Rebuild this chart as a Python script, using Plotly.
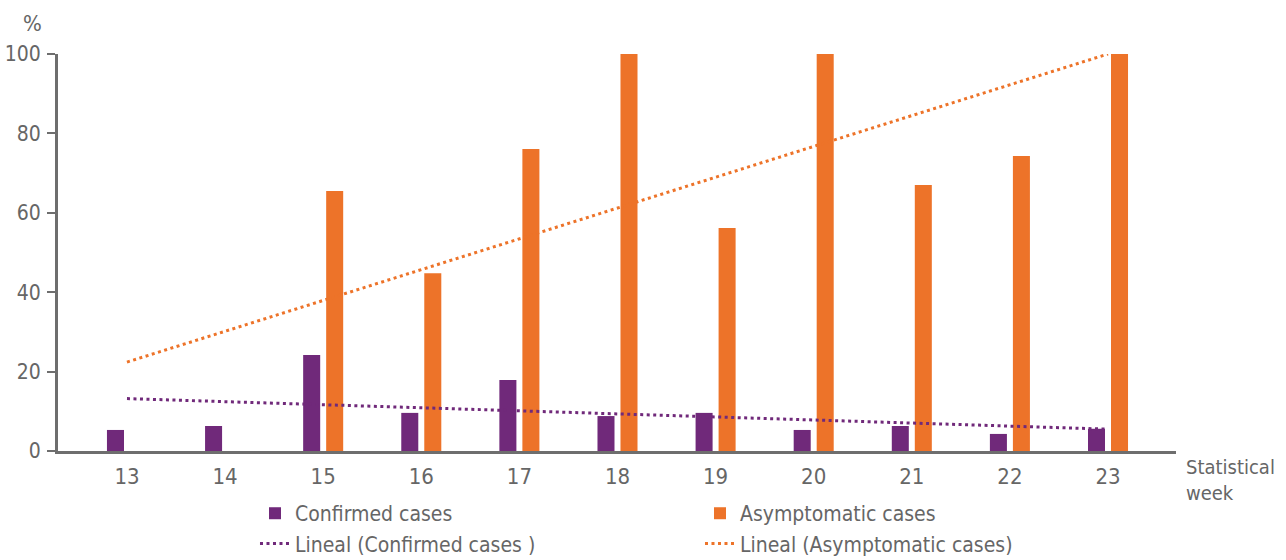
import plotly.graph_objects as go

# Weekly share of cases (%)
weeks = [13, 14, 15, 16, 17, 18, 19, 20, 21, 22, 23]
confirmed = [5.3, 6.3, 24.2, 9.6, 17.9, 8.8, 9.6, 5.3, 6.3, 4.3, 5.6]
asymptomatic = [0, 0, 65.5, 44.8, 76.1, 100, 56.2, 100, 67.0, 74.3, 100]

# Linear trend lines (end points at first and last week)
trend_weeks = [13, 23]
confirmed_trend = [13.2, 5.5]
asymptomatic_trend = [22.4, 100.0]

y_ticks = [0, 20, 40, 60, 80, 100]

PURPLE = "#70297A"
ORANGE = "#ED7329"
AXIS = "#6E6E6E"
TEXT = "#666666"
FONT = "DejaVu Sans Condensed, Liberation Sans Narrow, Arial Narrow, sans-serif"

fig = go.Figure()
fig.add_trace(go.Bar(x=weeks, y=confirmed, name="Confirmed cases",
                     marker=dict(color=PURPLE, line=dict(width=0))))
fig.add_trace(go.Bar(x=weeks, y=asymptomatic, name="Asymptomatic cases",
                     marker=dict(color=ORANGE, line=dict(width=0))))
fig.add_trace(go.Scatter(x=trend_weeks, y=confirmed_trend, mode="lines",
                         name="Lineal (Confirmed cases )",
                         line=dict(color=PURPLE, width=3, dash="3px,3.5px")))
fig.add_trace(go.Scatter(x=trend_weeks, y=asymptomatic_trend, mode="lines",
                         name="Lineal (Asymptomatic cases)",
                         line=dict(color=ORANGE, width=3, dash="3px,3.5px")))

fig.update_layout(
    width=1286, height=560,
    margin=dict(l=58, r=110, t=54, b=109, autoexpand=False),
    paper_bgcolor="white", plot_bgcolor="white",
    font=dict(family=FONT, size=21, color=TEXT),
    barmode="group", bargap=0.531, bargroupgap=0.26,
    showlegend=True,
    legend=dict(orientation="h", x=0.1762, y=-0.106, xanchor="left", yanchor="top",
                entrywidth=400, entrywidthmode="pixels", traceorder="normal",
                font=dict(family=FONT, size=21, color=TEXT),
                itemwidth=30, tracegroupgap=0),
    xaxis=dict(range=[12.297, 23.693], tickmode="array", tickvals=weeks,
               ticktext=[str(w) for w in weeks], showgrid=False, zeroline=False,
               showline=True, linecolor=AXIS, linewidth=3, ticks="",
               automargin=False, ticklabelstandoff=4,
               tickfont=dict(size=22, color=TEXT)),
    yaxis=dict(range=[0, 100], tickmode="array", tickvals=y_ticks, showgrid=False,
               zeroline=False, showline=True, linecolor=AXIS, linewidth=3,
               ticks="outside", ticklen=8, tickwidth=2, tickcolor=AXIS,
               automargin=False, ticklabelstandoff=2,
               tickfont=dict(size=21, color=TEXT)),
    annotations=[
        dict(text="%", xref="paper", yref="paper", x=-0.023, y=1.078,
             xanchor="center", yanchor="middle", showarrow=False,
             font=dict(size=22, color=TEXT)),
        dict(text="Statistical<br>week", xref="paper", yref="paper", x=1.007, y=-0.004,
             xanchor="left", yanchor="top", align="left", showarrow=False,
             font=dict(size=20, color=TEXT)),
    ],
)

fig.write_html("out.html")
